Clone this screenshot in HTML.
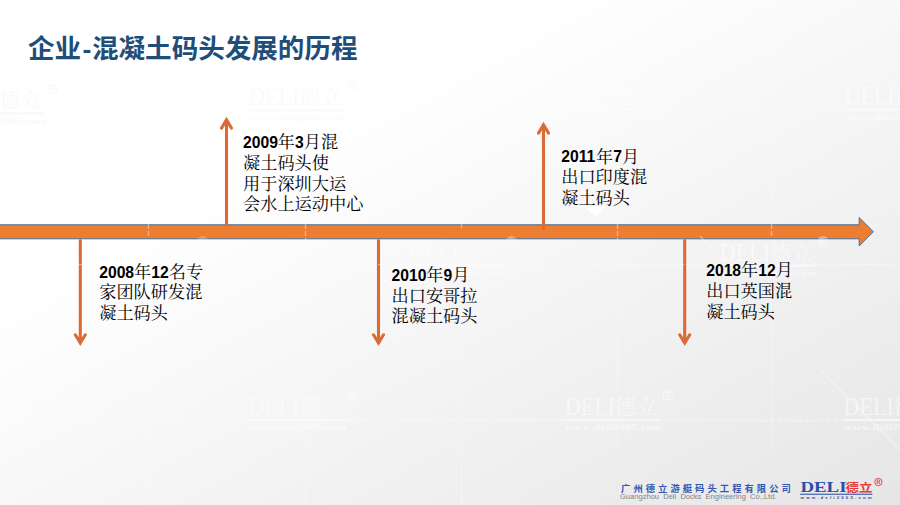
<!DOCTYPE html>
<html lang="zh-CN">
<head>
<meta charset="utf-8">
<title>企业-混凝土码头发展的历程</title>
<style>
  html,body{margin:0;padding:0;}
  body{width:900px;height:505px;overflow:hidden;background:#fff;font-family:"Liberation Sans",sans-serif;}
  #slide{position:relative;width:900px;height:505px;overflow:hidden;
    background:linear-gradient(151.6deg,#ffffff 0%,#ffffff 30.5%,#e6e6e6 100%);}
  #art{position:absolute;left:0;top:0;width:900px;height:505px;display:block;}
  .sr{position:absolute;left:0;top:0;width:900px;height:505px;overflow:hidden;opacity:0;pointer-events:none;font-family:"Liberation Sans",sans-serif;font-size:10px;line-height:12px;color:transparent;}
  .sr h1,.sr p{margin:0;padding:0;font-size:10px;font-weight:normal;}
  .wmD{font-family:"Liberation Serif","Noto Serif CJK SC",serif;font-size:25.7px;}
  .wmC{font-family:"Liberation Serif","Noto Serif CJK SC",serif;font-size:21px;letter-spacing:0.5px;}
  .wmW{font-family:"Liberation Serif","Noto Serif CJK SC",serif;font-size:9.2px;font-weight:bold;}
  .lb{font-family:"Liberation Serif","Noto Serif CJK SC",serif;font-size:17.2px;}
  .nm{font-family:"Liberation Sans","Noto Sans CJK SC",sans-serif;font-size:15.7px;font-weight:bold;}
</style>
</head>
<body>
<div id="slide">
<svg id="art" width="900" height="505" viewBox="0 0 900 505" role="img" aria-label="企业-混凝土码头发展的历程 时间轴">
<!-- main horizontal arrow -->
<path d="M-2 224.8H859.2V217.6L873.4 231.8L859.2 246V238.8H-2Z" fill="#ED7D31" stroke="#41719C" stroke-width="1" stroke-linejoin="miter"/>
<!-- vertical arrows -->
<g fill="none" stroke="#DC6A35" stroke-width="3.1" stroke-linecap="round" stroke-linejoin="miter">
  <path d="M80.3 240.5V343.1M75.3 334.8L80.3 343.1L85.3 334.8"/>
  <path d="M226.5 224.5V119.8M221.5 128.1L226.5 119.8L231.5 128.1"/>
  <path d="M378.5 240.5V343.1M373.5 334.8L378.5 343.1L383.5 334.8"/>
  <path d="M543.5 228.5V124.8M538.5 133.1L543.5 124.8L548.5 133.1"/>
  <path d="M684.7 240.5V343.1M679.7 334.8L684.7 343.1L689.7 334.8"/>
</g>
<!-- faint background grid + watermarks -->
<g stroke="#fff" stroke-width="1.4" stroke-dasharray="5 2" opacity="0.4" fill="none">
  <path d="M148.5 0V236M148.5 282V505"/>
  <path d="M305.5 0V80M305.5 126V392M305.5 436V505"/>
  <path d="M461.5 0V228M461.5 282V505"/>
  <path d="M617.5 0V80M617.5 126V392M617.5 436V452"/>
  <path d="M771.5 0V238M771.5 282V452"/>
  <path d="M0 110.5H900M0 264.5H900M0 420.5H900"/>
  <path d="M820 370L900 450M700 236L722 260" stroke-dasharray="none"/>
</g>
<g>
<g fill="#fff" opacity="0.550"><text class="wmD" transform="translate(249 414.5) scale(0.86 1)">DELI</text><text class="wmC" x="299" y="413.9">德立</text><rect x="249.5" y="418.9" width="95" height="1.9"/><text class="wmW" transform="translate(249.5 430.1) scale(1.33 1)">www.deli2005.com</text><circle cx="352.2" cy="395.2" r="4.6" fill="none" stroke="#fff" stroke-width="1.2"/><path d="M-1.7 2.6V-2.6H0.3Q1.9 -2.6 1.9 -1.1Q1.9 0.3 0.3 0.3H-1.7M0.4 0.3L2 2.6" transform="translate(352.2 395.2)" fill="none" stroke="#fff" stroke-width="1.1"/></g>
<g fill="#fff" opacity="0.550"><text class="wmD" transform="translate(564.7 414.5) scale(0.86 1)">DELI</text><text class="wmC" x="614.7" y="413.9">德立</text><rect x="565.2" y="418.9" width="95" height="1.9"/><text class="wmW" transform="translate(565.2 430.1) scale(1.33 1)">www.deli2005.com</text><circle cx="667.9" cy="395.2" r="4.6" fill="none" stroke="#fff" stroke-width="1.2"/><path d="M-1.7 2.6V-2.6H0.3Q1.9 -2.6 1.9 -1.1Q1.9 0.3 0.3 0.3H-1.7M0.4 0.3L2 2.6" transform="translate(667.9 395.2)" fill="none" stroke="#fff" stroke-width="1.1"/></g>
<g fill="#fff" opacity="0.550"><text class="wmD" transform="translate(843.5 414.5) scale(0.86 1)">DELI</text><text class="wmC" x="893.5" y="413.9">德立</text><rect x="844.0" y="418.9" width="95" height="1.9"/><text class="wmW" transform="translate(844 430.1) scale(1.33 1)">www.deli2005.com</text><circle cx="946.7" cy="395.2" r="4.6" fill="none" stroke="#fff" stroke-width="1.2"/><path d="M-1.7 2.6V-2.6H0.3Q1.9 -2.6 1.9 -1.1Q1.9 0.3 0.3 0.3H-1.7M0.4 0.3L2 2.6" transform="translate(946.7 395.2)" fill="none" stroke="#fff" stroke-width="1.1"/></g>
<g fill="#fff" opacity="0.500"><text class="wmD" transform="translate(-57.5 415) scale(0.86 1)">DELI</text><text class="wmC" x="-7.5" y="414.4">德立</text><rect x="-57.0" y="419.4" width="95" height="1.9"/><text class="wmW" transform="translate(-57 430.6) scale(1.33 1)">www.deli2005.com</text><circle cx="45.7" cy="395.7" r="4.6" fill="none" stroke="#fff" stroke-width="1.2"/><path d="M-1.7 2.6V-2.6H0.3Q1.9 -2.6 1.9 -1.1Q1.9 0.3 0.3 0.3H-1.7M0.4 0.3L2 2.6" transform="translate(45.7 395.7)" fill="none" stroke="#fff" stroke-width="1.1"/></g>
<g fill="#000" opacity="0.014"><text class="wmD" transform="translate(249 105) scale(0.86 1)">DELI</text><text class="wmC" x="299" y="104.4">德立</text><rect x="249.5" y="109.4" width="95" height="1.9"/><text class="wmW" transform="translate(249.5 120.6) scale(1.33 1)">www.deli2005.com</text><circle cx="352.2" cy="85.7" r="4.6" fill="none" stroke="#000" stroke-width="1.2"/><path d="M-1.7 2.6V-2.6H0.3Q1.9 -2.6 1.9 -1.1Q1.9 0.3 0.3 0.3H-1.7M0.4 0.3L2 2.6" transform="translate(352.2 85.7)" fill="none" stroke="#000" stroke-width="1.1"/></g>
<g fill="#fff" opacity="0.400"><text class="wmD" transform="translate(564.7 104) scale(0.86 1)">DELI</text><text class="wmC" x="614.7" y="103.4">德立</text><rect x="565.2" y="108.4" width="95" height="1.9"/><text class="wmW" transform="translate(565.2 119.6) scale(1.33 1)">www.deli2005.com</text><circle cx="667.9" cy="84.7" r="4.6" fill="none" stroke="#fff" stroke-width="1.2"/><path d="M-1.7 2.6V-2.6H0.3Q1.9 -2.6 1.9 -1.1Q1.9 0.3 0.3 0.3H-1.7M0.4 0.3L2 2.6" transform="translate(667.9 84.7)" fill="none" stroke="#fff" stroke-width="1.1"/></g>
<g fill="#fff" opacity="0.500"><text class="wmD" transform="translate(844.5 104) scale(0.86 1)">DELI</text><text class="wmC" x="894.5" y="103.4">德立</text><rect x="845.0" y="108.4" width="95" height="1.9"/><text class="wmW" transform="translate(845 119.6) scale(1.33 1)">www.deli2005.com</text><circle cx="947.7" cy="84.7" r="4.6" fill="none" stroke="#fff" stroke-width="1.2"/><path d="M-1.7 2.6V-2.6H0.3Q1.9 -2.6 1.9 -1.1Q1.9 0.3 0.3 0.3H-1.7M0.4 0.3L2 2.6" transform="translate(947.7 84.7)" fill="none" stroke="#fff" stroke-width="1.1"/></g>
<g fill="#000" opacity="0.024"><text class="wmD" transform="translate(-50.5 108) scale(0.86 1)">DELI</text><text class="wmC" x="-0.5" y="107.4">德立</text><rect x="-50.0" y="112.4" width="95" height="1.9"/><text class="wmW" transform="translate(-50 123.6) scale(1.33 1)">www.deli2005.com</text><circle cx="52.7" cy="88.7" r="4.6" fill="none" stroke="#000" stroke-width="1.2"/><path d="M-1.7 2.6V-2.6H0.3Q1.9 -2.6 1.9 -1.1Q1.9 0.3 0.3 0.3H-1.7M0.4 0.3L2 2.6" transform="translate(52.7 88.7)" fill="none" stroke="#000" stroke-width="1.1"/></g>
<g fill="#fff" opacity="0.350"><text class="wmD" transform="translate(99.5 260.5) scale(0.86 1)">DELI</text><text class="wmC" x="149.5" y="259.9">德立</text><rect x="100.0" y="264.9" width="95" height="1.9"/><text class="wmW" transform="translate(100 276.1) scale(1.33 1)">www.deli2005.com</text><circle cx="202.7" cy="241.2" r="4.6" fill="none" stroke="#fff" stroke-width="1.2"/><path d="M-1.7 2.6V-2.6H0.3Q1.9 -2.6 1.9 -1.1Q1.9 0.3 0.3 0.3H-1.7M0.4 0.3L2 2.6" transform="translate(202.7 241.2)" fill="none" stroke="#fff" stroke-width="1.1"/></g>
<g fill="#fff" opacity="0.450"><text class="wmD" transform="translate(408.3 260.5) scale(0.86 1)">DELI</text><text class="wmC" x="458.3" y="259.9">德立</text><rect x="408.8" y="264.9" width="95" height="1.9"/><text class="wmW" transform="translate(408.8 276.1) scale(1.33 1)">www.deli2005.com</text><circle cx="511.5" cy="241.2" r="4.6" fill="none" stroke="#fff" stroke-width="1.2"/><path d="M-1.7 2.6V-2.6H0.3Q1.9 -2.6 1.9 -1.1Q1.9 0.3 0.3 0.3H-1.7M0.4 0.3L2 2.6" transform="translate(511.5 241.2)" fill="none" stroke="#fff" stroke-width="1.1"/></g>
<g fill="#fff" opacity="0.550"><text class="wmD" transform="translate(719.7 260.5) scale(0.86 1)">DELI</text><text class="wmC" x="769.7" y="259.9">德立</text><rect x="720.2" y="264.9" width="95" height="1.9"/><text class="wmW" transform="translate(720.2 276.1) scale(1.33 1)">www.deli2005.com</text><circle cx="822.9" cy="241.2" r="4.6" fill="none" stroke="#fff" stroke-width="1.2"/><path d="M-1.7 2.6V-2.6H0.3Q1.9 -2.6 1.9 -1.1Q1.9 0.3 0.3 0.3H-1.7M0.4 0.3L2 2.6" transform="translate(822.9 241.2)" fill="none" stroke="#fff" stroke-width="1.1"/></g>
</g>
<path d="M584.7 206.3H606.7L595.7 217Z" fill="#fff"/>
<!-- title -->
<g fill="#1F4E79">
<text font-family='"Liberation Sans","Noto Sans CJK SC",sans-serif' font-size="26.55" font-weight="bold" y="58.3"><tspan x="28">企业</tspan><tspan x="82.6">-</tspan><tspan x="92">混凝土码头发展的历程</tspan></text>
</g>
<!-- labels -->
<g fill="#000">
<text><tspan class="nm" x="99.2" y="277.9">2008</tspan><tspan class="lb" x="134.07" y="277.5">年</tspan><tspan class="nm" x="151.27" y="277.9">12</tspan><tspan class="lb" x="168.71" y="277.5">名专</tspan></text>
<text class="lb" x="99.2" y="298.14">家团队研发混</text>
<text class="lb" x="99.2" y="318.78">凝土码头</text>

<text><tspan class="nm" x="243" y="147.8">2009</tspan><tspan class="lb" x="277.87" y="148.3">年</tspan><tspan class="nm" x="295.07" y="147.8">3</tspan><tspan class="lb" x="303.79" y="148.3">月混</tspan></text>
<text class="lb" x="243" y="168.94">凝土码头使</text>
<text class="lb" x="243" y="189.58">用于深圳大运</text>
<text class="lb" x="243" y="210.22">会水上运动中心</text>

<text><tspan class="nm" x="391.5" y="281.2">2010</tspan><tspan class="lb" x="426.37" y="281.2">年</tspan><tspan class="nm" x="443.57" y="281.2">9</tspan><tspan class="lb" x="452.29" y="281.2">月</tspan></text>
<text class="lb" x="391.5" y="301.84">出口安哥拉</text>
<text class="lb" x="391.5" y="322.48">混凝土码头</text>

<text><tspan class="nm" x="561.2" y="162">2011</tspan><tspan class="lb" x="596.07" y="162.5">年</tspan><tspan class="nm" x="613.27" y="162">7</tspan><tspan class="lb" x="621.99" y="162.5">月</tspan></text>
<text class="lb" x="561.2" y="183.14">出口印度混</text>
<text class="lb" x="561.2" y="203.78">凝土码头</text>

<text><tspan class="nm" x="706.2" y="276.3">2018</tspan><tspan class="lb" x="741.07" y="276.3">年</tspan><tspan class="nm" x="758.27" y="276.3">12</tspan><tspan class="lb" x="775.71" y="276.3">月</tspan></text>
<text class="lb" x="706.2" y="296.94">出口英国混</text>
<text class="lb" x="706.2" y="317.58">凝土码头</text>
</g>
<!-- footer -->
<g fill="#3456B0">
<text x="621.1" y="491.5" font-family='"Liberation Sans","Noto Sans CJK SC",sans-serif' font-size="9.3" font-weight="bold" letter-spacing="3.04">广州德立游艇码头工程有限公司</text>
</g>
<g fill="#838383">
<text x="620" y="499" font-family='"Liberation Sans",sans-serif' font-size="7.56" word-spacing="2.1">Guangzhou Deli Docks Engineering Co.,Ltd.</text>
</g>
<g fill="#2B4FA8">
<text transform="translate(800.4 492.4) scale(1.375 1)" font-family='"Liberation Serif",serif' font-size="13.7" font-weight="bold">DELI</text>
<rect x="800.2" y="493.7" width="72.2" height="1.05"/>
<text x="800.6" y="499.3" font-family='"Liberation Sans",sans-serif' font-size="4.4" font-weight="bold" letter-spacing="2.15">www.deli2005.com</text>
</g>
<g fill="#E23B3B">
<text transform="translate(845.6 491.9) scale(1.16 1)" font-family='"Liberation Sans","Noto Sans CJK SC",sans-serif' font-size="11.6" font-weight="bold">德立</text>
</g>
<g transform="translate(878.4 482.0)" fill="none" stroke="#E23B3B">
<circle cx="0" cy="0" r="3.7" stroke-width="0.9"/>
<path d="M-1.2 2V-2H0.2Q1.4 -2 1.4 -0.9Q1.4 0.2 0.2 0.2H-1.2M0.3 0.2L1.5 2" stroke-width="0.85"/>
</g>
</svg>
<div class="sr">
<h1>企业-混凝土码头发展的历程</h1>
<p>2008年12名专家团队研发混凝土码头</p>
<p>2009年3月混凝土码头使用于深圳大运会水上运动中心</p>
<p>2010年9月 出口安哥拉混凝土码头</p>
<p>2011年7月 出口印度混凝土码头</p>
<p>2018年12月 出口英国混凝土码头</p>
<p>广州德立游艇码头工程有限公司 Guangzhou Deli Docks Engineering Co.,Ltd. DELI德立 www.deli2005.com</p>
</div>
</div>
</body>
</html>
